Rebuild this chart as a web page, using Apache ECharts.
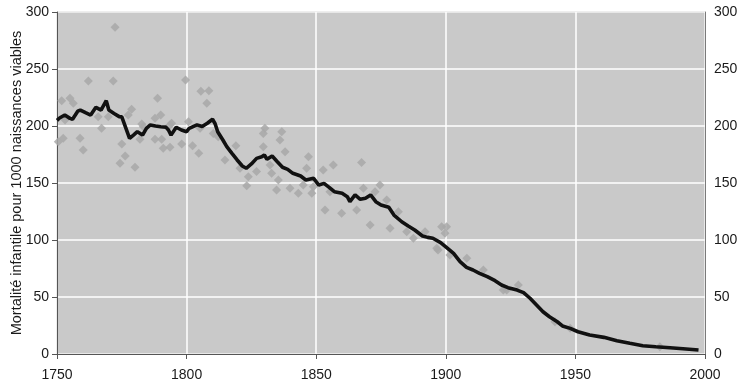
<!DOCTYPE html>
<html>
<head>
<meta charset="utf-8">
<script src="https://cdn.jsdelivr.net/npm/echarts@6/dist/echarts.min.js"></script>
<style>
  html, body { margin: 0; padding: 0; background: #fff; }
  #chart { width: 740px; height: 387px; }
</style>
</head>
<body>
<div id="chart"></div>
<script>
// courbe lissée (trait noir)
const lineYears = [1750, 1751, 1753, 1755, 1756, 1758, 1759, 1761, 1763, 1765, 1767, 1769, 1770, 1772, 1774, 1775,
  1778, 1779.5, 1781, 1783, 1784.5, 1786, 1788, 1790, 1792, 1793, 1794, 1796, 1798, 1800, 1801, 1804, 1806, 1808,
  1810, 1811, 1812, 1814, 1815.5, 1817.5, 1819.5, 1821.5, 1823, 1825, 1827, 1829, 1830, 1831, 1833, 1835, 1837,
  1839, 1841, 1844, 1846, 1849, 1851, 1853, 1855, 1857, 1860, 1862, 1863, 1865, 1867, 1869, 1871, 1873, 1875,
  1878, 1880, 1883, 1885.5, 1888, 1891, 1893, 1895, 1898, 1900, 1903, 1905.5, 1908, 1910.5, 1913, 1916, 1919,
  1921.5, 1924, 1927.5, 1930, 1932.5, 1935, 1937.5, 1940, 1943, 1945, 1948, 1951, 1955.5, 1961, 1966, 1971,
  1976, 1981, 1986.5, 1991.5, 1997.5]
const lineValues = [205, 207, 209.6, 206.7, 205.9, 213, 214, 211.7, 209.6, 216.4, 214, 222.2, 214, 211, 208.2, 208,
  189.2, 192, 195, 192, 198, 200.9, 200, 199.4, 199, 196.5, 192, 198.9, 196.5, 195, 198, 201, 199.5, 202.4,
  205.9, 202, 195, 187.7, 181.9, 176, 170.2, 164.9, 162.9, 166.7, 171.6, 173, 174.6, 170.8, 173.7, 168.7, 163.8,
  162, 158.5, 156.1, 152.6, 154.1, 148.2, 149.7, 146.2, 142.4, 141, 138, 133.6, 139.5, 135.7, 136.6, 139.5, 133.6, 130.7,
  128.7, 121.9, 116, 112.3, 108.8, 103.5, 102.3, 101.5, 97.7, 94, 88.3, 81, 76, 73.7, 70.8, 67.8, 64.3,
  60.5, 58.2, 56.1, 53.8, 48.9, 43, 37.1, 32.7, 28.3, 24.6, 22.5, 19.5, 16.7, 14.6, 11.7, 9.4,
  7.3, 6.4, 5.5, 4.6, 3.5]

// valeurs annuelles (losanges gris)
const pointYears = [1772.4, 1762.1, 1771.7, 1799.6, 1751.8, 1755, 1756.3, 1788.8, 1778.8, 1777.5, 1787.8, 1790,
  1765.9, 1769.8, 1767.2, 1753.1, 1752.4, 1750.5, 1758.9, 1760.1, 1775, 1776.3, 1774.3, 1780.1, 1782, 1787.8,
  1790.4, 1793.6, 1798.1, 1782.7, 1794.2, 1805.5, 1808.6, 1807.8, 1805.2, 1802.3, 1804.7, 1800.7, 1810.3, 1812.2,
  1819, 1814.8, 1820.6, 1823.8, 1823.2, 1827, 1793.6, 1791, 1783.3, 1830.2, 1829.6, 1836.7, 1829.6, 1832.2, 1838,
  1832.8, 1835.4, 1834.7, 1839.9, 1843.1, 1845, 1847, 1846.3, 1848.3, 1856.6, 1852.7, 1867.5, 1848.9, 1855.3,
  1868.2, 1874.6, 1872.7, 1877.2, 1881.7, 1853.4, 1859.8, 1865.6, 1870.8, 1878.5, 1884.9, 1887.5, 1892, 1898.4,
  1896.5, 1899.7, 1908.1, 1914.5, 1922.2, 1928, 1942.1, 1836, 1900.3, 1897, 1901.6, 1923.5, 1948, 1982.6]
const pointValues = [286.6, 239.5, 239.5, 240.4, 222.2, 224.3, 219.9, 224.3, 214.6, 209.6, 206.7, 209.6,
  208.2, 208.2, 198, 205.3, 189.2, 186.2, 189.2, 179, 184.2, 173.7, 167.3, 163.8, 188.3, 188.3,
  188.3, 181.3, 184.2, 201.8, 202.4, 230.4, 231, 219.9, 198, 182.6, 176, 203.8, 193.5, 190.6,
  182.6, 170.2, 162.9, 155.5, 147.5, 160.1, 200.9, 180.4, 199.4, 198, 193.5, 195, 181.9, 165.8, 177.5,
  158.5, 152.6, 143.9, 145.4, 141, 148.2, 173, 162.9, 141, 165.8, 161.4, 167.9, 146.8, 142.4,
  145.3, 148.2, 142.4, 135.1, 124.8, 126.3, 123.4, 126.3, 113.2, 110.3, 107.3, 101.5, 107.3, 111.7,
  92.7, 105.9, 83.9, 73.7, 56.1, 60.5, 28.3, 187.7, 111.7, 91.2, 86.8, 56.1, 22.5, 6.4]

const yTicks = [0, 50, 100, 150, 200, 250, 300]
const xTicks = [1750, 1800, 1850, 1900, 1950, 2000]

const chart = echarts.init(document.getElementById('chart'))
const font = 'Liberation Sans, Arial, sans-serif'
const labelStyle = { color: '#1a1a1a', fontSize: 14, fontFamily: font }

chart.setOption({
  animation: false,
  grid: {
    left: 57, right: 35, top: 12, bottom: 33,
    outerBoundsMode: 'none',
    containLabel: false,
    show: true,
    backgroundColor: '#c9c9c9',
    borderColor: '#7a7a7a',
    borderWidth: 1
  },
  xAxis: {
    type: 'value',
    min: xTicks[0],
    max: xTicks[xTicks.length - 1],
    interval: 50,
    axisLine: { show: true, lineStyle: { color: '#555', width: 1 } },
    axisTick: { show: true, length: 5, lineStyle: { color: '#555' } },
    axisLabel: Object.assign({ margin: 14, formatter: v => String(v) }, labelStyle),
    splitLine: { show: true, lineStyle: { color: '#fff', width: 1.5 } }
  },
  yAxis: [{
    type: 'value',
    min: yTicks[0],
    max: yTicks[yTicks.length - 1],
    interval: 50,
    name: 'Mortalité infantile pour 1000 naissances viables',
    nameLocation: 'middle',
    nameGap: 40,
    nameMoveOverlap: false,
    nameTextStyle: { color: '#1a1a1a', fontSize: 14.5, fontFamily: font, verticalAlign: 'middle' },
    axisLine: { show: true, lineStyle: { color: '#555', width: 1 } },
    axisTick: { show: true, length: 5, lineStyle: { color: '#555' } },
    axisLabel: Object.assign({ margin: 8 }, labelStyle),
    splitLine: { show: true, lineStyle: { color: '#fff', width: 1.5 } }
  }, {
    type: 'value',
    position: 'right',
    min: yTicks[0],
    max: yTicks[yTicks.length - 1],
    interval: 50,
    axisLine: { show: true, lineStyle: { color: '#7a7a7a', width: 1 } },
    axisTick: { show: false },
    axisLabel: Object.assign({ margin: 9 }, labelStyle),
    splitLine: { show: false }
  }],
  series: [{
    type: 'scatter',
    symbol: 'diamond',
    symbolSize: [9, 9],
    itemStyle: { color: '#a8a8a8', opacity: 0.85 },
    data: pointYears.map((y, i) => [y, pointValues[i]]),
    z: 2
  }, {
    type: 'line',
    showSymbol: false,
    symbol: 'none',
    lineStyle: { color: '#111', width: 3.6 },
    data: lineYears.map((y, i) => [y, lineValues[i]]),
    z: 3
  }]
})
</script>
</body>
</html>
